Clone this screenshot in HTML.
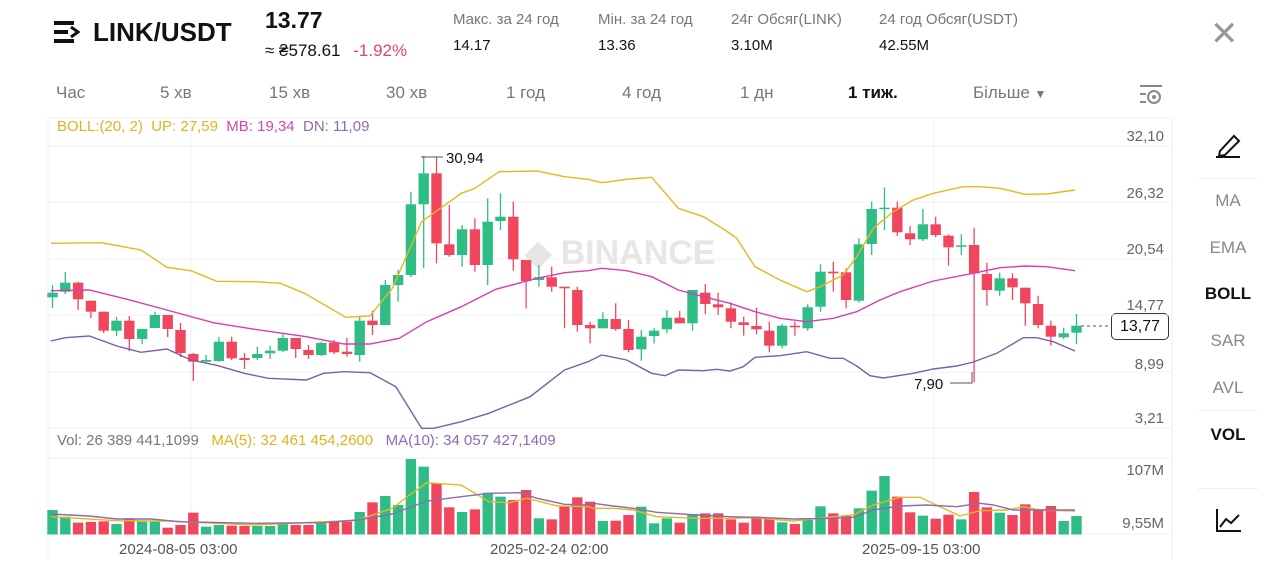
<!DOCTYPE html>
<html><head><meta charset="utf-8"><style>
body{margin:0;width:1280px;height:576px;background:#fff;overflow:hidden;font-family:"Liberation Sans",sans-serif;}
.t{position:absolute;white-space:nowrap;}
</style></head><body>
<div style="position:relative;width:1280px;height:576px;">
<svg class="t" style="left:54px;top:21px" width="26" height="22"><rect x="0" y="0" width="20" height="4" fill="#111"/><rect x="0" y="9" width="14" height="4" fill="#111"/><rect x="0" y="18" width="20" height="4" fill="#111"/><path d="M17 6 L24 11 L17 16" fill="none" stroke="#111" stroke-width="3"/></svg>
<div class="t" style="left:93px;top:17px;font-size:26px;font-weight:bold;color:#111">LINK/USDT</div>
<div class="t" style="left:265px;top:7px;font-size:23px;font-weight:bold;color:#111">13.77</div>
<div class="t" style="left:265px;top:41px;font-size:17px;color:#111">≈ ₴578.61 <span style="color:#e2465f;margin-left:8px">-1.92%</span></div>
<div class="t" style="left:453px;top:11px;font-size:15px;color:#777">Макс. за 24 год</div>
<div class="t" style="left:453px;top:37px;font-size:15px;color:#111">14.17</div>
<div class="t" style="left:598px;top:11px;font-size:15px;color:#777">Мін. за 24 год</div>
<div class="t" style="left:598px;top:37px;font-size:15px;color:#111">13.36</div>
<div class="t" style="left:731px;top:11px;font-size:15px;color:#777">24г Обсяг(LINK)</div>
<div class="t" style="left:731px;top:37px;font-size:15px;color:#111">3.10M</div>
<div class="t" style="left:879px;top:11px;font-size:15px;color:#777">24 год Обсяг(USDT)</div>
<div class="t" style="left:879px;top:37px;font-size:15px;color:#111">42.55M</div>
<div class="t" style="left:1210px;top:14px;font-size:34px;color:#999;font-weight:200">✕</div>
<div class="t" style="top:83px;left:0;font-size:17px;color:#777">
<span class="t" style="left:56px">Час</span><span class="t" style="left:160px">5 хв</span><span class="t" style="left:269px">15 хв</span><span class="t" style="left:386px">30 хв</span><span class="t" style="left:506px">1 год</span><span class="t" style="left:622px">4 год</span><span class="t" style="left:740px">1 дн</span><span class="t" style="left:848px;color:#111;font-weight:bold">1 тиж.</span><span class="t" style="left:973px">Більше <span style="font-size:12px">▼</span></span></div>
<svg class="t" style="left:1138px;top:82px" width="26" height="24"><path d="M2 4H24M2 12H8M2 20H8" stroke="#888" stroke-width="2"/><circle cx="16" cy="15" r="6" fill="none" stroke="#888" stroke-width="2"/><circle cx="16" cy="15" r="2" fill="#888"/></svg>
<div class="t" style="left:57px;top:118px;font-size:15px;color:#e0b21f">BOLL:(20, 2)&nbsp;&nbsp;UP: 27,59&nbsp;&nbsp;<span style="color:#d347b3">MB: 19,34</span>&nbsp;&nbsp;<span style="color:#8c6bb1">DN: 11,09</span></div>
<div class="t" style="left:57px;top:432px;font-size:15px;color:#777">Vol: 26 389 441,1099&nbsp;&nbsp;&nbsp;<span style="color:#e0b21f">MA(5): 32 461 454,2600</span>&nbsp;&nbsp;&nbsp;<span style="color:#8c6bb1">MA(10): 34 057 427,1409</span></div>
<div class="t" style="font-size:15px;color:#555;left:119px;top:541px">2024-08-05 03:00</div>
<div class="t" style="font-size:15px;color:#555;left:490px;top:541px">2025-02-24 02:00</div>
<div class="t" style="font-size:15px;color:#555;left:862px;top:541px">2025-09-15 03:00</div>
<div class="t" style="font-size:15px;color:#666;right:116px;top:128px">32,10</div>
<div class="t" style="font-size:15px;color:#666;right:116px;top:185px">26,32</div>
<div class="t" style="font-size:15px;color:#666;right:116px;top:241px">20,54</div>
<div class="t" style="font-size:15px;color:#666;right:116px;top:297px">14,77</div>
<div class="t" style="font-size:15px;color:#666;right:116px;top:356px">8,99</div>
<div class="t" style="font-size:15px;color:#666;right:116px;top:410px">3,21</div>
<div class="t" style="font-size:15px;color:#666;right:116px;top:462px">107M</div>
<div class="t" style="font-size:15px;color:#666;right:116px;top:515px">9,55M</div>
<div class="t" style="left:1111px;top:313px;width:56px;height:25px;border:1px solid #333;border-radius:5px;background:#fff;font-size:16px;line-height:25px;text-align:center;color:#111">13,77</div>
<svg class="t" style="left:1214px;top:131px" width="30" height="28"><path d="M6 20 L20 5 L25 10 L11 24 L5 25 Z" fill="none" stroke="#111" stroke-width="2"/><path d="M2 26H26" stroke="#111" stroke-width="2"/></svg>
<div class="t" style="left:1198px;top:178px;width:60px;height:1px;background:#eee"></div>
<div class="t" style="left:1198px;top:410px;width:60px;height:1px;background:#eee"></div>
<div class="t" style="left:1198px;top:488px;width:60px;height:1px;background:#eee"></div>
<div class="t" style="left:1198px;top:191px;width:60px;text-align:center;font-size:17px;color:#888">MA</div>
<div class="t" style="left:1198px;top:238px;width:60px;text-align:center;font-size:17px;color:#888">EMA</div>
<div class="t" style="left:1198px;top:284px;width:60px;text-align:center;font-size:17px;color:#111;font-weight:bold">BOLL</div>
<div class="t" style="left:1198px;top:331px;width:60px;text-align:center;font-size:17px;color:#888">SAR</div>
<div class="t" style="left:1198px;top:378px;width:60px;text-align:center;font-size:17px;color:#888">AVL</div>
<div class="t" style="left:1198px;top:425px;width:60px;text-align:center;font-size:17px;color:#111;font-weight:bold">VOL</div>
<svg class="t" style="left:1215px;top:507px" width="28" height="26"><path d="M2 2V24H26" fill="none" stroke="#111" stroke-width="2"/><path d="M5 20 L11 12 L16 16 L24 8" fill="none" stroke="#111" stroke-width="2"/></svg>
<svg id="c" class="t" style="left:0;top:0" width="1280" height="576"></svg>
</div>
<script>
var s='';
s+='<line x1="48" y1="118" x2="1172" y2="118" stroke="#f0f0f0"/><line x1="1172" y1="118" x2="1172" y2="560" stroke="#eee"/><line x1="48" y1="118" x2="48" y2="560" stroke="#f0f0f0"/>';
[146,202,259,315,372,428,458,534].forEach(function(y){s+='<line x1="48" y1="'+y+'" x2="1172" y2="'+y+'" stroke="#f0f0f0"/>';});
[191,934].forEach(function(x){s+='<line x1="'+x+'" y1="118" x2="'+x+'" y2="534" stroke="#f0f0f0"/>';});
s+='<text x="525" y="264" font-size="34" font-weight="bold" fill="#e6e6e6" font-family="Liberation Sans">◆ BINANCE</text>';
var C=[[1,292.7,297.3,285,308],[1,282.7,291.7,272,294],[0,282.7,299.3,281.7,310],[0,300.7,311.7,300.7,318],[0,311.7,330.7,311.7,333],[1,320.7,330.7,317,336],[0,320.7,339,316,351],[1,329,339,329,344],[1,315,328,311.7,328],[0,315,329,315,337],[0,330,353,323,357],[0,354,361.7,353,381],[1,360,361.7,355,363],[1,341.7,361,337,361.7],[0,341.7,358.3,336.7,360],[0,358,360,353,369],[1,354,358,346.7,360],[1,350.7,353.3,345.7,359],[1,338,350.7,333,352],[0,338,349,338,358],[0,350,355,345,359],[1,343,355,341.7,356],[0,342.7,352.3,340,354],[0,351.7,354,338,356.7],[1,320.7,355,315.7,361.7],[0,320.7,325,310.7,335],[1,285,325,280,325],[1,275,285,270,301.7],[1,204.3,275,191.7,277.3],[1,173.3,204.3,156,268],[0,173.3,243.3,156.7,263.3],[0,244.3,255,205,256.7],[1,229.3,255,225,266.7],[0,229.3,265,218.3,271.7],[1,221.7,265,198.3,285],[1,216.7,221,193.3,230],[0,216.7,259.3,201.7,270.7],[0,260,281,260,308.3],[1,277.3,280,265,286.7],[0,277.3,286.7,266.7,291.7],[0,286.7,288.3,286.7,328.3],[0,290,325,286.7,331.7],
[0,325,328.3,321.7,343.3],[1,319,328.3,312.3,328.3],[0,319,329,303.3,330.7],[0,329,350,320,352.3],[1,336.7,349.3,330,360.7],[1,330.7,336,328.3,343.3],[1,317.7,329.3,310,333.3],[0,317.7,323.3,311,323.3],[1,290,323.3,290,330.7],[0,292.7,304,284,314],[0,304.3,307.3,292.7,315],[0,308.3,321.7,302.7,328.3],[0,322.3,325,316.7,335.7],[0,326,329.3,307.7,334.3],[0,330.7,345.7,321.7,352.3],[1,325.7,345.7,324,348.3],[0,325.7,327.3,321.7,335.7],[1,307.3,328.3,304.3,330.7],[1,271.7,306.7,264.3,311.7],[0,271.7,273.3,261.7,291.7],[0,272.3,300,268.3,308.3],[1,244.3,300.7,238.3,302.7],[1,209,244,201.7,255],[1,207.7,209,187.3,230],[0,207.7,232.3,201.7,236],[0,233.3,239.3,226,245.3],[1,224.3,239.3,209,241],[0,224.3,235,216.7,237.3],[0,235.7,247.3,234.3,265.7],[1,245.3,246.7,234.3,255],[0,245,273.3,227.7,382.3],[0,274,290,262.7,305.7],[1,278.3,290.7,272.7,295.7],[0,278.3,287.3,273.3,300],[0,287.7,303.3,287.7,325.7],[0,304,325,295.7,328.3],[0,325.7,336.7,320.7,345.7],[1,333.3,337.3,327.7,339],[1,325.7,332.7,314,344]];
var V=[210,230,248,246,244,252,235,245,245,263,255,218,260,255,257,258,258,258,247,255,255,250,243,245,216,187,168,195,57,80,130,202,216,208,158,170,180,150,235,238,200,172,185,243,242,225,200,250,235,248,222,220,220,238,248,230,235,247,252,240,199,220,228,205,152,108,170,217,227,236,224,238,156,202,218,225,193,208,198,243,228];
var G='#2ebd85',R='#f0475f';
C.forEach(function(c,i){var x=52.5+12.8*i,col=c[0]?G:R;var h=Math.max(c[2]-c[1],1.5);
s+='<line x1="'+x+'" y1="'+c[3]+'" x2="'+x+'" y2="'+c[4]+'" stroke="'+col+'" stroke-width="1.3"/>';
s+='<rect x="'+(x-5.2)+'" y="'+c[1]+'" width="10.4" height="'+h+'" fill="'+col+'"/>';
var vy=440+V[i]/3;s+='<rect x="'+(x-5.2)+'" y="'+vy+'" width="10.4" height="'+(534.5-vy)+'" fill="'+col+'"/>';});
function pl(p,col){s+='<polyline points="'+p+'" fill="none" stroke="'+col+'" stroke-width="1.4"/>';}
pl('50.8,243.3 101.4,242.7 141,250 166.8,267.3 190.9,270.7 216.7,281.3 254.6,281.7 280.4,283.3 304.5,293.3 345.9,317.3 370,316 392.4,288.3 421.6,221.7 461.3,193.3 475,188.3 499.1,171.7 536.9,171 564.5,176.7 588,179.3 601.7,182.7 626.7,179.3 651.7,177.3 678.3,208.3 703.3,216.7 725,230 736.7,238.3 755,266.7 780,280 806.7,291.7 820,286.7 843.3,275 856.7,256.7 873.3,228.3 893.3,211.7 913.3,200 933.3,193.3 963.3,186.7 980,186.7 1000,188.3 1025,194.3 1046.7,194 1075,190','#e6b81e');
pl('50.8,290.7 89.3,290 127.2,299.3 166.8,310 213.3,322.7 254.6,329.3 306.3,336.7 344.1,344 370,344 399.2,338.3 426.8,321.7 461.3,306.7 495.7,289.3 537,278.3 564.5,272.7 588,270.7 601.7,268.3 626.7,270.7 651.7,276.7 678.3,290 703.3,296.7 730,303.3 755,311.7 780,318.3 806.7,321.7 833.3,318.3 856.7,311.7 880,300 900,291.7 933.3,281 973.3,273.3 1000,267.7 1025,266 1046.7,266.7 1075,270.7','#d63fb0');
pl('50.8,341 65.2,337.7 89.3,336 116.9,346 141,352.3 166.8,349 190.9,360 216.7,365.3 244.3,373.3 268.4,378.3 306.3,380 323.5,373.3 344.1,371.7 370,372.7 395.8,386.7 421.6,428.3 433.7,428.3 461.3,421.7 488.8,413.3 530.1,396.7 564.5,370 588,361.7 601.7,355 626.7,360 651.7,373.3 665,375.7 678.3,370 703.3,370.7 716.7,369.3 730,371 743.3,366.7 755,357.3 780,355.7 806.7,351.7 830,358.3 843.3,358.3 856.7,366 870,375.7 883.3,378 913.3,373.3 933.3,369 956.7,366 973.3,362 996.7,353.3 1023.3,337.7 1036.7,337.7 1053.3,341.7 1075,351','#7d5fa8');
function cv(a,x0,xs){return a.map(function(p){return (x0+p[0]/xs).toFixed(1)+','+(440+p[1]/3).toFixed(1);}).join(' ');}
var m5a=[[8,230],[200,242],[350,243],[600,255],[850,243],[900,240],[1000,205],[1050,165],[1100,128],[1200,135],[1280,185],[1340,188],[1390,175],[1480,198],[1568,200]];
var m5b=[[40,205],[100,205],[160,210],[230,230],[350,235],[440,235],[520,233],[640,243],[760,230],[820,225],[880,195],[960,172],[1020,172],[1080,200],[1140,228],[1200,212],[1280,210],[1330,200],[1380,210],[1485,213]];
var m10a=[[8,222],[120,228],[200,237],[300,237],[380,245],[600,250],[800,248],[900,240],[1000,222],[1100,183],[1200,170],[1280,160],[1370,158],[1420,175],[1500,193],[1568,195]];
var m10b=[[40,190],[100,198],[160,205],[230,217],[350,225],[450,230],[560,233],[640,237],[760,235],[820,232],[880,210],[960,198],[1040,195],[1130,200],[1200,190],[1240,195],[1300,210],[1380,210],[1485,210]];
pl(cv(m5a,48,2.904)+' '+cv(m5b,580,3),'#e6b81e');
pl(cv(m10a,48,2.904)+' '+cv(m10b,580,3),'#8c6bb1');
s+='<polyline points="422,156 422,157 443,157" fill="none" stroke="#555" stroke-width="1"/><text x="446" y="163" font-size="15" fill="#111" font-family="Liberation Sans">30,94</text>';
s+='<polyline points="972,372 972,383 950,383" fill="none" stroke="#555" stroke-width="1"/><text x="914" y="389" font-size="15" fill="#111" font-family="Liberation Sans">7,90</text>';
s+='<line x1="1081" y1="326" x2="1110" y2="326" stroke="#555" stroke-dasharray="3,3"/>';
document.getElementById('c').innerHTML=s;
</script>
</body></html>
